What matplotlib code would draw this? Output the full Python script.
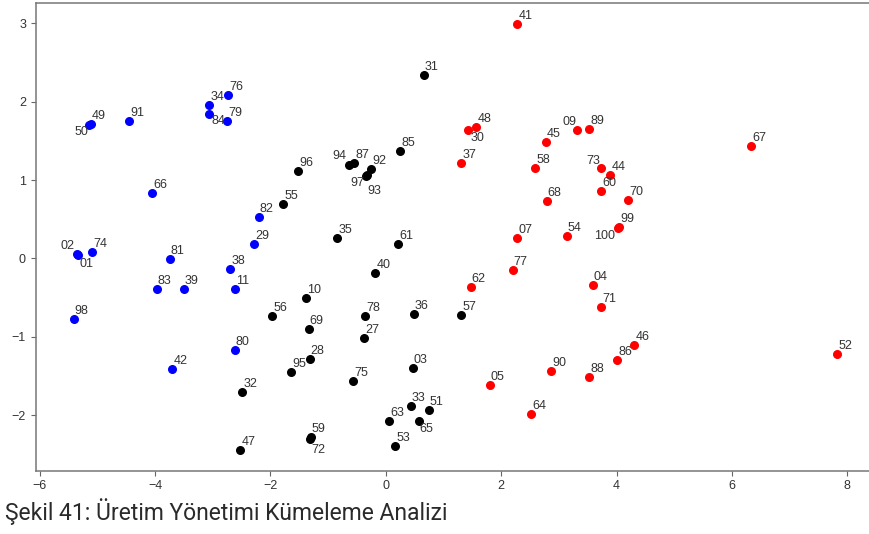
import matplotlib
matplotlib.use("Agg")
import matplotlib.pyplot as plt

# Cluster 0 (blue)
blue_labels = ["49", "50", "91", "76", "34", "84", "79", "66", "82", "29", "02",
               "01", "74", "81", "38", "83", "39", "11", "98", "80", "42"]
blue_x = [-5.12, -5.14, -4.45, -2.73, -3.06, -3.06, -2.75, -4.05, -2.20, -2.28, -5.36,
          -5.34, -5.09, -3.75, -2.70, -3.97, -3.50, -2.62, -5.41, -2.62, -3.70]
blue_y = [1.71, 1.70, 1.76, 2.09, 1.96, 1.85, 1.76, 0.84, 0.53, 0.18, 0.06,
          0.05, 0.08, -0.01, -0.14, -0.39, -0.39, -0.39, -0.77, -1.17, -1.41]

# Cluster 1 (black)
black_labels = ["31", "85", "96", "94", "87", "92", "97", "93", "55", "35", "61",
                "40", "10", "56", "78", "36", "57", "69", "27", "28", "95", "03",
                "75", "32", "33", "51", "63", "65", "59", "72", "53", "47"]
black_x = [0.66, 0.25, -1.52, -0.64, -0.55, -0.25, -0.35, -0.33, -1.78, -0.84, 0.21,
           -0.18, -1.38, -1.97, -0.36, 0.48, 1.31, -1.34, -0.37, -1.32, -1.64, 0.47,
           -0.57, -2.49, 0.43, 0.74, 0.06, 0.57, -1.30, -1.32, 0.16, -2.52]
black_y = [2.34, 1.37, 1.11, 1.19, 1.22, 1.14, 1.05, 1.06, 0.70, 0.26, 0.19,
           -0.18, -0.51, -0.74, -0.73, -0.71, -0.72, -0.90, -1.02, -1.28, -1.45, -1.40,
           -1.56, -1.71, -1.88, -1.94, -2.07, -2.07, -2.28, -2.31, -2.39, -2.44]

# Cluster 2 (red)
red_labels = ["41", "48", "30", "37", "45", "58", "09", "89", "67", "73", "44",
              "60", "70", "68", "07", "54", "99", "100", "77", "62", "04", "71",
              "46", "86", "88", "05", "90", "64", "52"]
red_x = [2.28, 1.57, 1.43, 1.31, 2.78, 2.59, 3.32, 3.53, 6.33, 3.73, 3.89,
         3.73, 4.20, 2.79, 2.28, 3.14, 4.05, 4.03, 2.20, 1.47, 3.59, 3.73,
         4.31, 4.01, 3.53, 1.80, 2.87, 2.52, 7.83]
red_y = [2.99, 1.68, 1.64, 1.22, 1.48, 1.15, 1.64, 1.65, 1.43, 1.16, 1.07,
         0.86, 0.74, 0.73, 0.26, 0.29, 0.40, 0.39, -0.15, -0.36, -0.34, -0.62,
         -1.11, -1.30, -1.52, -1.61, -1.44, -1.98, -1.22]

x_ticks = [-6, -4, -2, 0, 2, 4, 6, 8]
y_ticks = [-2, -1, 0, 1, 2, 3]

caption = "Şekil 41: Üretim Yönetimi Kümeleme Analizi"

# label placement: (dx px, dy px, ha, va); anything not listed uses the default
label_default = (1, 2, "left", "bottom")
label_place = {
    "50": (-1, -1, "right", "top"),
    "02": (-2, 2, "right", "bottom"),
    "01": (2, -3, "left", "top"),
    "97": (-1, -1, "right", "top"),
    "93": (1, -10, "left", "top"),
    "94": (-3, 3, "right", "bottom"),
    "30": (2, -2, "left", "top"),
    "84": (2, -1, "left", "top"),
    "72": (2, -5, "left", "top"),
    "65": (1, -2, "left", "top"),
    "100": (-3, -2, "right", "top"),
    "09": (-1, 2, "right", "bottom"),
    "73": (-1, 1, "right", "bottom"),
}

text_col = "#333333"
small_font = ["Liberation Sans", "DejaVu Sans"]

fig = plt.figure(figsize=(8.69, 5.34), dpi=100)
ax = fig.add_axes([0.0411, 0.1185, 0.9664, 0.8758])

groups = [(blue_labels, blue_x, blue_y, "blue"),
          (black_labels, black_x, black_y, "black"),
          (red_labels, red_x, red_y, "red")]

for labels, xs, ys, col in groups:
    ax.scatter(xs, ys, s=30, c=col, zorder=3)
    for lab, x, y in zip(labels, xs, ys):
        dx, dy, ha, va = label_place.get(lab, label_default)
        ax.annotate(lab, (x, y), xytext=(dx, dy), textcoords="offset pixels",
                    ha=ha, va=va, fontsize=9, color=text_col, family=small_font)

ax.set_xlim(-6.07, 8.49)
ax.set_ylim(-2.71, 3.26)
ax.set_xticks(x_ticks)
ax.set_yticks(y_ticks)
ax.tick_params(colors="#666666", labelcolor=text_col, labelsize=9)
for lab in ax.get_xticklabels() + ax.get_yticklabels():
    lab.set_family(small_font)
for sp in ax.spines.values():
    sp.set_color("#777777")
    sp.set_linewidth(1.1)
# the right edge of the frame runs past the canvas
ax.spines["right"].set_visible(False)

fig.text(0.006, 0.026, caption, fontsize=16.5, color="#2a2a2a",
         family=["Roboto", "DejaVu Sans"], fontweight="normal", va="baseline")

fig.savefig("out.png", dpi=100)
